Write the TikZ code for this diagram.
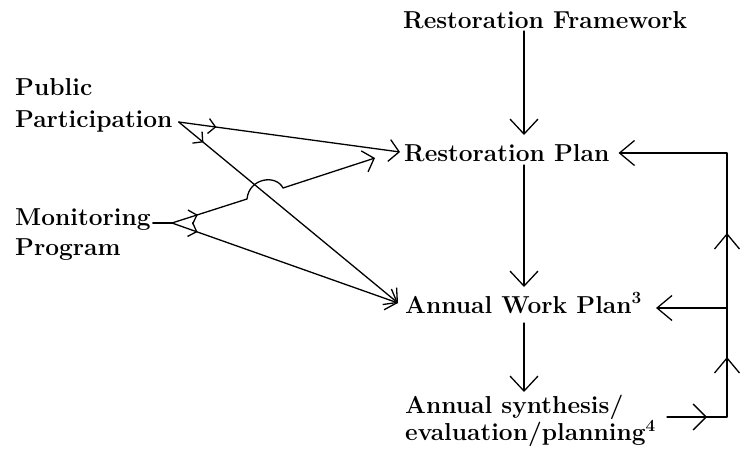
\documentclass[tikz,border=0pt]{standalone}
\usetikzlibrary{arrows.meta,decorations.markings,calc}
\begin{document}
\begin{tikzpicture}[x=1pt,y=-1pt,
  lbl/.style={inner sep=0pt, anchor=base west, font={\fontsize{24.5}{24}\selectfont\bfseries}},
  conn/.style={line width=1.3pt, line cap=round, line join=round},
  bigtip/.style={-{Straight Barb[length=15pt,width=28pt]}},
  sidetip/.style={-{Straight Barb[length=15pt,width=25pt]}},
  lefttip/.style={-{Straight Barb[length=10pt,width=22pt]}},
  midsmall/.style={postaction=decorate, decoration={markings,
      mark=at position #1 with {\arrow{Straight Barb[length=7pt,width=15pt]}}}},
  loopmarks/.style={postaction=decorate, decoration={markings,
      mark=at position 40pt with {\arrow{Straight Barb[length=13pt,width=26pt]}},
      mark=at position 120pt with {\arrow{Straight Barb[length=15pt,width=25pt]}},
      mark=at position 244pt with {\arrow{Straight Barb[length=15pt,width=25pt]}}}}
]
\useasboundingbox (0,0) rectangle (740,455);

% text nodes
\node[lbl] (rf) at (403,28) {Restoration Framework};
\node[lbl] (rp) at (404,161) {Restoration Plan};
\node[lbl] (awp) at (405,313) {Annual Work Plan\textsuperscript{3}};
\node[lbl] (syn) at (405,413) {\begin{tabular}[t]{@{}l@{}}Annual synthesis/\\evaluation/planning\textsuperscript{4}\end{tabular}};
\node[lbl] (pp) at (15,127) {\fontsize{24.5}{32}\selectfont\begin{tabular}[b]{@{}l@{}}Public\\Participation\end{tabular}};
\node[lbl] (mp) at (15,225) {\fontsize{24.5}{30}\selectfont\begin{tabular}[t]{@{}l@{}}Monitoring\\Program\end{tabular}};

% helper coordinates
\coordinate (cx) at (524,0);
\coordinate (tr) at (727,153);
\coordinate (mr) at (727,308);
\coordinate (br) at (727,417);
\coordinate (sl) at (667,417);
\coordinate (m0) at (172,223);
\coordinate (h1) at (247,199);
\coordinate (h2) at (283,188);

% central chain
\draw[conn,bigtip] ($(rf.base -| cx)+(0,3)$) -- ($(rp.base -| cx)+(0,-26)$);
\draw[conn,bigtip] ($(rp.base -| cx)+(0,4)$) -- ($(awp.base -| cx)+(0,-26)$);
\draw[conn,bigtip] ($(awp.base -| cx)+(0,10)$) -- ($(syn.base -| cx)+(0,-21)$);

% feedback loop on the right
\draw[conn,sidetip,loopmarks] (sl) -- (br) -- (tr) -- ($(rp.base east)+(9,-8)$);
\draw[conn,sidetip] (mr) -- ($(awp.base east)+(14,-5)$);

% left inputs
\draw[conn,lefttip,midsmall=38pt] ($(pp.base east)+(6,-5)$) -- ($(rp.base west)+(-4,-9)$);
\draw[conn,lefttip,midsmall=32pt] ($(pp.base east)+(6,-5)$) -- ($(awp.base west)+(-7,-10)$);
\draw[conn] ($(mp.base east)+(2,-2)$) -- (m0);
\draw[conn,lefttip,midsmall=27pt] (m0) -- (h1) .. controls +(2,-21) and +(-7,-14) .. (h2) -- ($(rp.base west)+(-29,-3)$);
\draw[conn,lefttip,midsmall=27pt] (m0) -- ($(awp.base west)+(-7,-10)$);
\end{tikzpicture}
\end{document}
